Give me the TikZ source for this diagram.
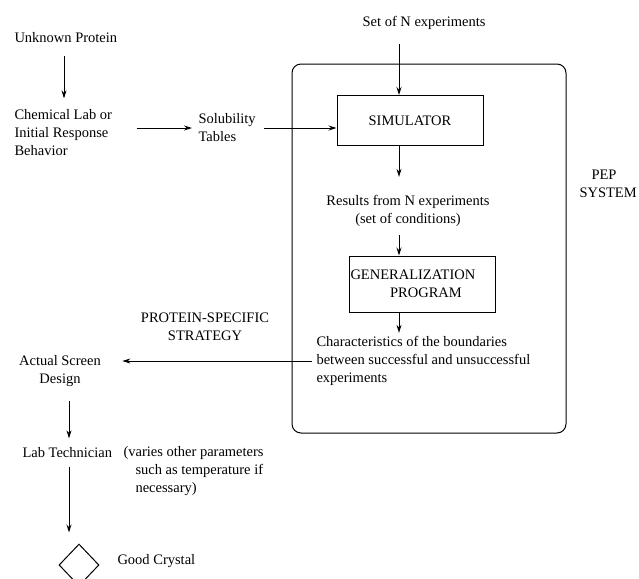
\documentclass[tikz,border=0pt]{standalone}
\usepackage{fontspec}
\setmainfont{Liberation Serif}
\usetikzlibrary{shapes.geometric,arrows.meta}
\begin{document}
\begin{tikzpicture}[x=1pt,y=-1pt,line width=1pt,>={Stealth[length=8pt,width=5pt]}]
	\tikzstyle{Label} = [inner sep=0pt, font=\fontsize{14.5}{18}\selectfont]
	\tikzstyle{Box} = [rectangle, draw, inner sep=0pt, font=\fontsize{14.5}{18}\selectfont]
	\useasboundingbox (0,0) rectangle (639,578);
	\clip (0,0) rectangle (639,578);
	% columns of the vertical arrows
	\coordinate (colA) at (64,0);
	\coordinate (colB) at (69,0);
	\coordinate (colM) at (399,0);
	% left column
	\node (up) at (14,38) [Label, anchor=west] {Unknown Protein};
	\node (chem) at (14,133) [Label, anchor=west, align=left] {Chemical Lab or\\Initial Response\\Behavior};
	\node (sol) at (198,128) [Label, anchor=west, align=left] {Solubility\\Tables};
	% PEP system
	\node (nexp) at (424,23) [Label] {Set of N experiments};
	\node (pep) at (429,248.5) [Box, rounded corners=9pt, minimum width=274pt, minimum height=369pt] {};
	\node (pepl) at (579,184) [Label, anchor=west, align=left] {\hspace*{12pt}PEP\\SYSTEM};
	\node (sim) at (410,120.5) [Box, minimum width=146pt, minimum height=50pt] {SIMULATOR};
	\node (res) at (408,211) [Label, align=center] {Results from N experiments\\(set of conditions)};
	\node (gen) at (422,284) [Box, minimum width=146pt, minimum height=56pt] {};
	\node (gent) at (350,275) [Label, anchor=west] {GENERALIZATION};
	\node (genp) at (426,293) [Label] {PROGRAM};
	\node (chars) at (316,361) [Label, anchor=west, align=left] {Characteristics of the boundaries\\between successful and unsuccessful\\experiments};
	% output side
	\node (strat) at (205,327) [Label, align=center] {PROTEIN-SPECIFIC\\STRATEGY};
	\node (screen) at (60,371) [Label, align=center] {Actual Screen\\Design};
	\node (tech) at (22,453) [Label, anchor=west] {Lab Technician};
	\node (vary) at (123,446) [Label, anchor=north west, align=left] {(varies other parameters\\\hspace*{12pt}such as temperature if\\\hspace*{12pt}necessary)};
	\node (crystal) at (79,565) [diamond, draw, inner sep=0pt, minimum width=40pt, minimum height=42pt] {};
	\node (good) at (117,561) [Label, anchor=west] {Good Crystal};
	% connectors
	\draw [->, shorten <=12pt, shorten >=11pt] (up.south -| colA) to (chem.north -| colA);
	\draw [->, shorten <=25pt, shorten >=6pt] (chem.east |- sol.west) to (sol.west);
	\draw [->, shorten <=8pt] (sol.east) to (sim.west |- sol.east);
	\draw [->, shorten <=14pt] (nexp.south -| colM) to (sim.north -| colM);
	\draw [->, shorten >=18pt] (sim.south -| colM) to (res.north -| colM);
	\draw [->, shorten <=8pt] (res.south -| colM) to (gen.north -| colM);
	\draw [->, shorten >=3pt] (gen.south -| colM) to (chars.north -| colM);
	\draw [->, shorten <=4pt, shorten >=21pt] (chars.west) to (screen.east |- chars.west);
	\draw [->, shorten <=14pt, shorten >=9pt] (screen.south -| colB) to (tech.north -| colB);
	\draw [->, shorten <=8pt, shorten >=11pt] (tech.south -| colB) to (crystal.north -| colB);
\end{tikzpicture}
\end{document}
